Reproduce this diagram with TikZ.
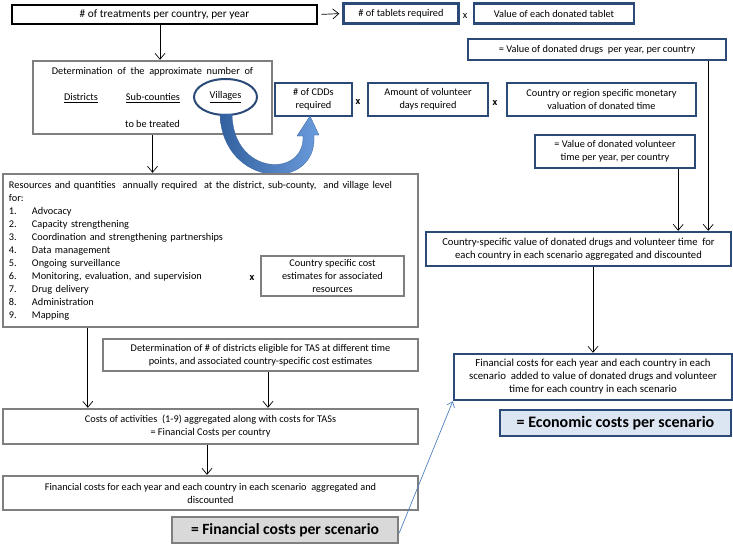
\documentclass[tikz,border=0pt]{standalone}
\usepackage{fontspec}
\setmainfont{Carlito}
\usetikzlibrary{arrows.meta,shapes.geometric}
\definecolor{bblue}{HTML}{2C4A78}
\definecolor{bgray}{HTML}{7F7F7F}
\definecolor{lblue}{HTML}{4F81BD}
\definecolor{fgray}{HTML}{D9D9D9}
\definecolor{fblue}{HTML}{DCE6F2}
\definecolor{adark}{HTML}{33619F}
\definecolor{alight}{HTML}{6A9BDB}
\tikzset{
  box/.style={rectangle, inner sep=1pt, align=center, fill=white, text=black,
    font=\fontsize{10.3}{13}\selectfont},
  bluebox/.style={box, draw=bblue, line width=2.4pt},
  graybox/.style={box, draw=bgray, line width=2.4pt},
  blkbox/.style={box, draw=black, line width=2.8pt},
  arr/.style={draw=black, line width=0.7pt, -{Straight Barb[length=6pt,width=10pt,line width=0.7pt]}},
  blarr/.style={draw=lblue, line width=0.7pt, -{Straight Barb[length=5pt,width=8pt,line width=0.7pt]}},
  times/.style={inner sep=0pt, font=\fontsize{10.3}{12}\selectfont},
  bigtxt/.style={font=\fontsize{15.6}{19}\selectfont\bfseries},
}
\begin{document}
\begin{tikzpicture}[x=1pt,y=-1pt]
\useasboundingbox (0,0) rectangle (733,546);
% top row
\node[blkbox, minimum width=305, minimum height=19, font=\fontsize{11.3}{13}\selectfont] (t1) at (164.5,14.5) {\# of treatments per country, per year};
\node[bluebox, minimum width=115, minimum height=20] (tab) at (401,13.5) {\# of tablets required};
\node[times] (x1) at (465,16) {x};
\node[bluebox, minimum width=160, minimum height=20] (val) at (554,13.5) {Value of each donated tablet};
\node[bluebox, minimum width=258, minimum height=21] (drugs) at (597,49.5) {= Value of donated drugs\ \ per year, per country};
% determination box
\node[graybox, minimum width=239, minimum height=73] (det) at (152.5,97.5) {};
\node[box, fill=none] (dett) at (152.5,72) {Determination\ \ of\ \ the\ \ approximate\ \ number\ \ of};
\node[box, fill=none] (dist) at (81,98) {\underline{Districts}};
\node[box, fill=none] (subc) at (153,98) {\underline{Sub-counties}};
\node[draw=bblue, line width=2pt, ellipse, minimum width=63, minimum height=36, inner sep=0pt] (vill) at (225.5,97) {};
\node[box, fill=none] at (vill.center) {\underline{Villages}};
\node[box, fill=none] (tbt) at (152.5,124) {to be treated};
% CDD row
\node[bluebox, minimum width=77, minimum height=33] (cdd) at (313.5,99.5) {\# of CDDs\\required};
\node[times] (x2) at (358,102) {\textbf{x}};
\node[bluebox, minimum width=120, minimum height=33] (days) at (428,99.5) {Amount of volunteer\\days required};
\node[times] (x3) at (495,103) {\textbf{x}};
\node[bluebox, minimum width=189, minimum height=33] (mon) at (601.5,99.5) {Country or region specific monetary\\valuation of donated time};
\node[bluebox, minimum width=160, minimum height=33] (vol) at (615,151.5) {= Value of donated volunteer\\time per year, per country};
% curved arrow
\shade[left color=adark, right color=alight, draw=adark, line width=0.3pt]
  (220,114) .. controls (222,188) and (318,193) .. (314,135)
  -- (319,135) -- (310,116) -- (297,136) -- (303,136)
  .. controls (305,178) and (233,176) .. (232,114) -- cycle;
% right column
\node[bluebox, minimum width=305, minimum height=34, font=\fontsize{10.6}{12.5}\selectfont] (csv) at (578.5,249) {Country-specific value of donated drugs and volunteer time\ \ for\\each country in each scenario aggregated and discounted};
\node[bluebox, minimum width=278, minimum height=46, font=\fontsize{10.8}{13}\selectfont] (fin2) at (593,377) {Financial costs for each year and each country in each\\scenario\ \ added to value of donated drugs and volunteer\\time for each country in each scenario};
\node[bluebox, fill=fblue, minimum width=231, minimum height=26, font=\fontsize{16}{19}\selectfont\bfseries] (econ) at (615.5,423) {= Economic costs per scenario};
% resources box
\node[graybox, minimum width=415, minimum height=153, align=left, text width=403, anchor=center] (res) at (210.5,250.5) {Resources and quantities\ \ annually required\ \ at the district, sub-county,\ \ and village level\\
for:\\
\makebox[23pt][l]{1.}Advocacy\\
\makebox[23pt][l]{2.}Capacity strengthening\\
\makebox[23pt][l]{3.}Coordination and strengthening partnerships\\
\makebox[23pt][l]{4.}Data management\\
\makebox[23pt][l]{5.}Ongoing surveillance\\
\makebox[23pt][l]{6.}Monitoring, evaluation, and supervision\\
\makebox[23pt][l]{7.}Drug delivery\\
\makebox[23pt][l]{8.}Administration\\
\makebox[23pt][l]{9.}Mapping};
\node[times] (x4) at (252,278) {\textbf{x}};
\node[graybox, minimum width=143, minimum height=40] (cse) at (332.5,276) {Country specific cost\\estimates for associated\\resources};
% lower left
\node[graybox, minimum width=315, minimum height=32] (tas) at (260.5,355) {Determination of \# of districts eligible for TAS at different time\\points, and associated country-specific cost estimates};
\node[graybox, minimum width=415, minimum height=35] (costs) at (210.5,426.5) {Costs of activities\ \ (1-9) aggregated along with costs for TASs\\= Financial Costs per country};
\node[graybox, minimum width=415, minimum height=34] (fincost) at (210.5,493) {Financial costs for each year and each country in each scenario\ \ aggregated and\\discounted};
\node[graybox, fill=fgray, minimum width=226, minimum height=26, bigtxt] (finsc) at (285,530) {= Financial costs per scenario};
% connectors
\draw[arr, shorten >=3pt, shorten <=3pt] (t1.east) -- (tab.west);
\draw[arr] ([xshift=-4.5pt]t1.south) -- ([xshift=-4.5pt]t1.south |- det.north);
\draw[arr] (det.south) -- (det.south |- res.north);
\draw[arr] ([xshift=86pt]res.south west) -- ([xshift=86pt]res.south west |- costs.north);
\draw[arr] ([xshift=7.5pt]tas.south) -- ([xshift=7.5pt]tas.south |- costs.north);
\draw[arr] ([xshift=-3.5pt]costs.south) -- ([xshift=-3.5pt]costs.south |- fincost.north);
\draw[arr] ([xshift=-19pt]drugs.south east) -- ([xshift=-19pt]drugs.south east |- csv.north);
\draw[arr] ([xshift=-18pt]vol.south east) -- ([xshift=-18pt]vol.south east |- csv.north);
\draw[arr] (fin2.north |- csv.south) -- (fin2.north);
\draw[blarr] ([yshift=-3pt]finsc.east) -- (fin2.south west);
\end{tikzpicture}
\end{document}
